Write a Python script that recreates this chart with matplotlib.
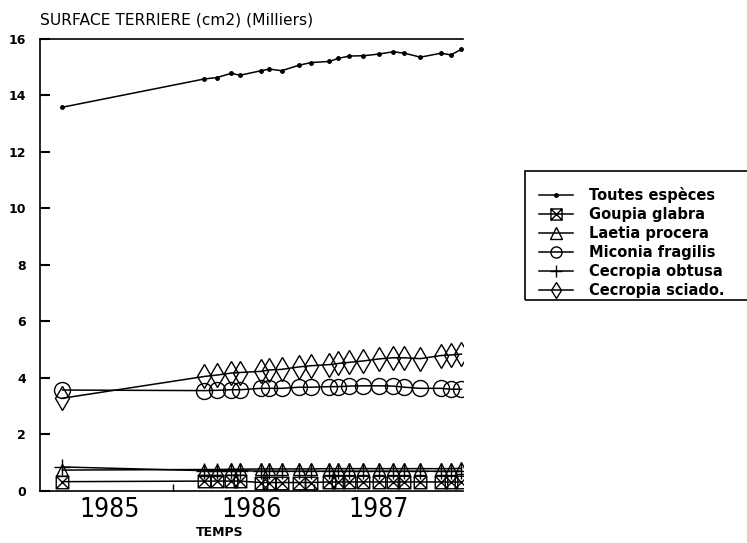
import numpy as np
import matplotlib
matplotlib.use("Agg")
import matplotlib.pyplot as plt
from matplotlib.path import Path
from matplotlib.patches import Rectangle

# ---- data (decimal years, values in thousands of cm2) ----
dates = [1985.216, 1986.223, 1986.312, 1986.415, 1986.475, 1986.624, 1986.684,
         1986.770, 1986.897, 1986.982, 1987.110, 1987.174, 1987.252, 1987.351,
         1987.461, 1987.560, 1987.642, 1987.755, 1987.901, 1987.972, 1988.046]

toutes = [13.57, 14.57, 14.62, 14.77, 14.70, 14.86, 14.92, 14.86, 15.06, 15.15,
          15.19, 15.30, 15.38, 15.39, 15.45, 15.53, 15.48, 15.34, 15.48, 15.42, 15.62]
goupia = [0.33, 0.35, 0.35, 0.35, 0.35, 0.30, 0.30, 0.30, 0.30, 0.30,
          0.32, 0.32, 0.32, 0.32, 0.32, 0.32, 0.32, 0.32, 0.32, 0.32, 0.32]
laetia = [0.74, 0.76, 0.76, 0.77, 0.77, 0.78, 0.78, 0.78, 0.78, 0.78,
          0.79, 0.79, 0.79, 0.79, 0.79, 0.79, 0.79, 0.79, 0.79, 0.79, 0.80]
miconia = [3.57, 3.55, 3.56, 3.58, 3.58, 3.63, 3.63, 3.63, 3.67, 3.67,
           3.69, 3.69, 3.71, 3.72, 3.72, 3.71, 3.67, 3.63, 3.63, 3.60, 3.60]
c_obtusa = [0.85, 0.72, 0.72, 0.72, 0.72, 0.70, 0.70, 0.70, 0.70, 0.70,
            0.70, 0.70, 0.70, 0.70, 0.70, 0.70, 0.70, 0.70, 0.70, 0.70, 0.70]
c_sciado = [3.28, 4.05, 4.10, 4.17, 4.19, 4.23, 4.28, 4.30, 4.39, 4.43,
            4.47, 4.51, 4.55, 4.60, 4.67, 4.71, 4.71, 4.68, 4.79, 4.81, 4.84]

labels = ["Toutes espèces", "Goupia glabra", "Laetia procera",
          "Miconia fragilis", "Cecropia obtusa", "Cecropia sciado."]
year_labels = ["1985", "1986", "1987"]
year_label_pos = [1985.55, 1986.56, 1987.46]
year_ticks = [1986, 1987]
y_ticks = [0, 2, 4, 6, 8, 10, 12, 14, 16]

# ---- marker: square with X ----
boxx = Path([(-1, -1), (1, -1), (1, 1), (-1, 1), (-1, -1),
             (-1, -1), (1, 1), (-1, 1), (1, -1)],
            [Path.MOVETO, Path.LINETO, Path.LINETO, Path.LINETO, Path.CLOSEPOLY,
             Path.MOVETO, Path.LINETO, Path.MOVETO, Path.LINETO])

plt.rcParams['font.family'] = ['DejaVu Sans']

fig = plt.figure(figsize=(7.47, 5.43), dpi=100)
ax = fig.add_axes([40 / 747, 1 - 491 / 543, 423 / 747, (491 - 38.5) / 543])

k = dict(color='black', lw=1.1, mfc='none', mec='black', mew=1.0)
h0, = ax.plot(dates, toutes, marker='o', ms=2.5, mfc='black', color='black', lw=1.1)
h1, = ax.plot(dates, goupia, marker=boxx, ms=9, **k)
h2, = ax.plot(dates, laetia, marker='^', ms=9, **k)
h3, = ax.plot(dates, miconia, marker='o', ms=11.5, **k)
h4, = ax.plot(dates, c_obtusa, marker='+', ms=11, **k)
h5, = ax.plot(dates, c_sciado, marker='d', ms=12, **k)

ax.set_ylim(0, 16)
ax.set_xlim(1985.057, 1988.057)
ax.set_yticks(y_ticks)
ax.set_yticklabels([str(v) for v in y_ticks], fontsize=9, fontweight='bold')
ax.set_xticks(year_ticks)
ax.set_xticklabels([])
ax.set_xticks(year_label_pos, minor=True)
ax.set_xticklabels(year_labels, minor=True, fontsize=19, fontstretch='condensed')
ax.tick_params(axis='x', which='major', direction='in', length=5, width=1)
ax.tick_params(axis='x', which='minor', length=0, pad=4)
ax.tick_params(axis='y', direction='in', length=7, width=1.5, pad=10)
for s in ax.spines.values():
    s.set_linewidth(1.2)
ax.spines['right'].set_visible(False)

fig.text(40 / 747, 1 - 20 / 543, "SURFACE TERRIERE (cm2) (Milliers)",
         fontsize=11.2, va='center', ha='left')
fig.text(220 / 747, 1 - 532 / 543, "TEMPS", fontsize=9, fontweight='bold',
         va='center', ha='center')

# legend (frame drawn separately)
leg = fig.legend([h0, h1, h2, h3, h4, h5], labels, loc='upper left',
                 bbox_to_anchor=(539 / 747, 1 - 187 / 543),
                 frameon=False, handlelength=2.3, handletextpad=1.1,
                 labelspacing=0.27, borderpad=0, borderaxespad=0,
                 prop=dict(weight='bold', size=10.5))
for i, lh in enumerate(leg.legend_handles):
    lh.set_markersize(2.5 if i == 0 else 8)
fig.patches.append(Rectangle((525 / 747, 1 - 300 / 543), 240 / 747, 129 / 543,
                             transform=fig.transFigure, fill=False,
                             edgecolor='black', lw=1.2))

fig.savefig("out.png", dpi=100)
